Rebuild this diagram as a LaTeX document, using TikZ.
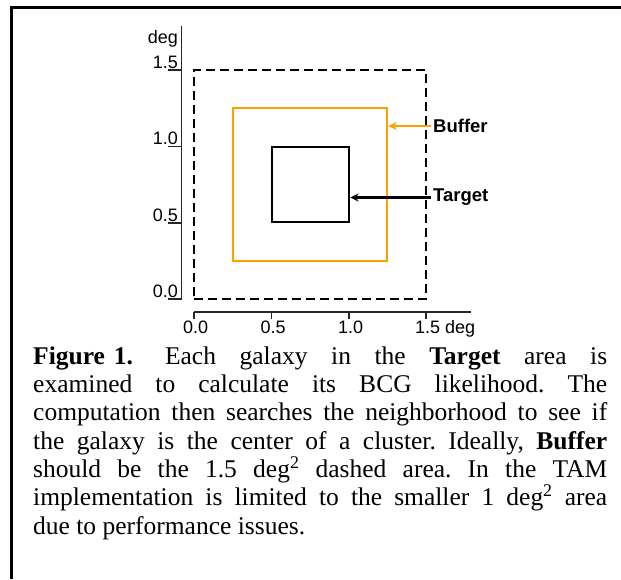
\documentclass[tikz,border=0pt]{standalone}
\usepackage{fontspec}
\setmainfont{Liberation Serif}
\setsansfont{Liberation Sans}
\usetikzlibrary{arrows.meta}
\definecolor{bufcol}{RGB}{255,160,0}
\begin{document}
\frenchspacing
\begin{tikzpicture}[x=1pt,y=-1pt,
  axis/.style={draw=black!85,line width=1.3pt},
  ticklab/.style={font=\sffamily\fontsize{18}{20}\selectfont,inner sep=0pt},
  arrlab/.style={font=\sffamily\bfseries\fontsize{18.5}{20}\selectfont,inner sep=2pt,anchor=west},
  sq/.style={rectangle,inner sep=0pt,line width=2.9pt},
  conn/.style={line width=2.6pt,-{Stealth[length=8pt,width=8pt]}},
  capline/.style={font=\fontsize{25.5}{28}\selectfont,inner sep=0pt,anchor=base west},
]
\useasboundingbox (0,0) rectangle (621,579);
% frame
\coordinate (fbl) at (11.5,579);
\coordinate (ftl) at (11.5,7.5);
\coordinate (ftr) at (621,7.5);
\draw[line width=2.6pt] (fbl) -- (ftl) -- (ftr);
% squares
\node[sq,draw,dash pattern=on 9pt off 5pt,minimum width=232pt,minimum height=229pt] (outer) at (310,184.5) {};
\node[sq,draw=bufcol,minimum width=154pt,minimum height=153pt] (buf) at (310,184.5) {};
\node[sq,draw,minimum width=77pt,minimum height=75pt] (tgt) at (310.5,184.5) {};
% y axis
\coordinate (ytop) at (181.5,26);
\coordinate (ybot) at (181.5,299);
\draw[axis] (ytop) -- (ybot);
\node[ticklab,anchor=base east] (ydeg) at (178,43) {deg};
\draw[axis] (168,70) -- (181.5,70);
\draw[axis] (168,146.5) -- (181.5,146.5);
\draw[axis] (168,223) -- (181.5,223);
\draw[axis] (168,299) -- (181.5,299);
\node[ticklab,anchor=base east] (ya) at (178,68) {1.5};
\node[ticklab,anchor=base east] (yb) at (178,144.5) {1.0};
\node[ticklab,anchor=base east] (yc) at (178,221) {0.5};
\node[ticklab,anchor=base east] (yd) at (178,297) {0.0};
% x axis
\coordinate (xl) at (194,312);
\coordinate (xr) at (471,312);
\draw[axis] (xl) -- (xr);
\draw[axis] (194,312) -- (194,319);
\draw[axis] (271.5,312) -- (271.5,319);
\draw[axis] (349,312) -- (349,319);
\draw[axis] (426,312) -- (426,319);
\node[ticklab,anchor=base west] (xa) at (183,333) {0.0};
\node[ticklab,anchor=base west] (xb) at (260.5,333) {0.5};
\node[ticklab,anchor=base west] (xc) at (338,333) {1.0};
\node[ticklab,anchor=base west] (xd) at (415,333) {1.5 deg};
% labels and arrows
\node[arrlab] (bufl) at (431,126) {Buffer};
\node[arrlab] (tgtl) at (431,197.5) {Target};
\draw[conn,bufcol] (bufl.west) -- (bufl.west -| buf.east);
\draw[conn] (tgtl.west) -- (tgtl.west -| tgt.east);
% caption
\node[capline] (c1) at (33,364) {\makebox[574pt][s]{\textbf{Figure\hspace{9pt}1.}\hspace{32pt}Each galaxy in the \textbf{Target} area is}};
\node[capline] (c2) at (33,392.3) {\makebox[574pt][s]{examined to calculate its BCG likelihood. The}};
\node[capline] (c3) at (33,420.7) {\makebox[574pt][s]{computation then searches the neighborhood to see if}};
\node[capline] (c4) at (33,449) {\makebox[574pt][s]{the galaxy is the center of a cluster. Ideally, \textbf{Buffer}}};
\node[capline] (c5) at (33,477.3) {\makebox[574pt][s]{should be the 1.5 deg\textsuperscript{2} dashed area. In the TAM}};
\node[capline] (c6) at (33,505.7) {\makebox[574pt][s]{implementation is limited to the smaller 1 deg\textsuperscript{2} area}};
\node[capline] (c7) at (33,534) {due to performance issues.};
\end{tikzpicture}
\end{document}
